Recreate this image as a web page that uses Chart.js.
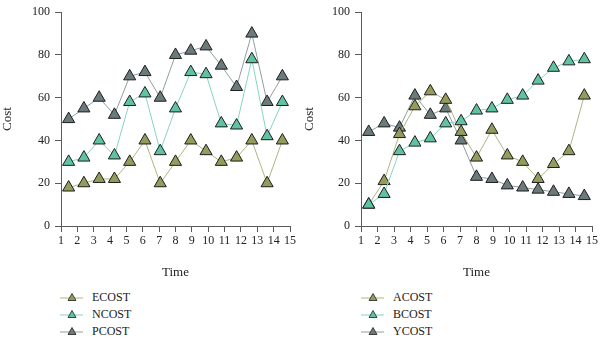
<!DOCTYPE html>
<html><head><meta charset="utf-8">
<script src="https://cdn.jsdelivr.net/npm/chart.js@4.4.1/dist/chart.umd.min.js"></script>
<style>
html,body{margin:0;padding:0;background:#fff;}
#wrap{position:relative;width:600px;height:341px;overflow:hidden;background:#fff;}
canvas{position:absolute;top:0;}
.legend{position:absolute;font-family:"Liberation Serif","Times New Roman",serif;font-size:12px;color:#222;}
.item{position:absolute;left:0;height:17px;line-height:17px;white-space:nowrap;}
.item svg{position:absolute;left:0;top:3px;}
.item span{position:absolute;left:32px;top:0;}
</style></head>
<body><div id="wrap">
<canvas id="c1" width="300" height="282" style="left:0"></canvas>
<canvas id="c2" width="300" height="282" style="left:300px"></canvas>
<div id="lg1" class="legend" style="left:60px;top:289px"></div>
<div id="lg2" class="legend" style="left:361px;top:289px"></div>
</div>
<script>
// ---- data ----
const periods = ['1','2','3','4','5','6','7','8','9','10','11','12','13','14','15'];
const xTickLabels = ['1','2','3','4','5','6','7','8','9','10','11','12','13','14','15'];
const yTickValues = [0, 20, 40, 60, 80, 100];

const ecost = [18, 20, 22, 22, 30, 40, 20, 30, 40, 35, 30, 32, 40, 20, 40];
const ncost = [30, 32, 40, 33, 58, 62, 35, 55, 72, 71, 48, 47, 78, 42, 58];
const pcost = [50, 55, 60, 52, 70, 72, 60, 80, 82, 84, 75, 65, 90, 58, 70];

const acost = [10, 21, 43, 56, 63, 59, 44, 32, 45, 33, 30, 22, 29, 35, 61];
const bcost = [10, 15, 35, 39, 41, 48, 49, 54, 55, 59, 61, 68, 74, 77, 78];
const ycost = [44, 48, 46, 61, 52, 55, 40, 23, 22, 19, 18, 17, 16, 15, 14];

const xTitle = 'Time';
const yTitle = 'Cost';

// ---- styles ----
const olive = {fill: '#939c5c', line: '#b0b482'};
const teal  = {fill: '#5fc2a2', line: '#86d5c0'};
const gray  = {fill: '#6b7a7a', line: '#929d9d'};
const FONT = '"Liberation Serif","Times New Roman",serif';
const AXIS = '#5a5a5a';
const TXT = '#222';

function ds(label, data, st, order) {
  return {
    label, data, xAxisID: 'xc', yAxisID: 'y', order,
    borderColor: st.line, borderWidth: 1, backgroundColor: st.fill,
    pointStyle: 'triangle', pointRadius: 7, pointHoverRadius: 7,
    pointBackgroundColor: st.fill, pointBorderColor: '#1e1e1e', pointBorderWidth: 1,
    fill: false, tension: 0
  };
}

function makeChart(id, datasets, padLeft, padRight) {
  return new Chart(document.getElementById(id), {
    type: 'line',
    data: {labels: periods, datasets},
    options: {
      responsive: false, animation: false, events: [],
      layout: {padding: {left: padLeft, right: padRight, top: 8, bottom: 0}},
      plugins: {legend: {display: false}, tooltip: {enabled: false}},
      scales: {
        x: {
          type: 'category', labels: xTickLabels, offset: false, position: 'bottom',
          grid: {display: true, drawOnChartArea: false, drawTicks: true, tickLength: 6, color: AXIS, offset: false},
          border: {display: true, color: AXIS, width: 1},
          ticks: {font: {family: FONT, size: 12}, color: TXT, padding: 2, maxRotation: 0, autoSkip: false},
          title: {display: true, text: xTitle, font: {family: FONT, size: 13}, color: TXT, padding: {top: 0, bottom: 2}},
          afterFit: s => { s.height = 56; }
        },
        xc: {type: 'category', labels: periods, offset: true, display: false},
        y: {
          min: 0, max: 100,
          afterBuildTicks: s => { s.ticks = yTickValues.map(v => ({value: v})); },
          grid: {display: true, drawOnChartArea: false, drawTicks: true, tickLength: 6, color: AXIS},
          border: {display: true, color: AXIS, width: 1},
          ticks: {font: {family: FONT, size: 12}, color: TXT, padding: 5},
          title: {display: true, text: yTitle, font: {family: FONT, size: 13}, color: TXT, padding: {top: 0, bottom: 0}},
          afterFit: s => { s.width = 61 - padLeft; }
        }
      }
    }
  });
}

makeChart('c1', [ds('ECOST', ecost, olive, 0), ds('NCOST', ncost, teal, 1), ds('PCOST', pcost, gray, 2)], 0, 10);
makeChart('c2', [ds('ACOST', acost, olive, 1), ds('BCOST', bcost, teal, 0), ds('YCOST', ycost, gray, 2)], 2, 6);

function legend(id, names, sts) {
  const el = document.getElementById(id);
  names.forEach((n, i) => {
    const st = sts[i];
    const d = document.createElement('div');
    d.className = 'item';
    d.style.top = (i * 17) + 'px';
    d.innerHTML = '<svg width="26" height="11" viewBox="0 0 26 11">' +
      '<line x1="0" y1="6" x2="23" y2="6" stroke="' + st.line + '" stroke-width="1"/>' +
      '<polygon points="12,1.5 16,8.5 8,8.5" fill="' + st.fill + '" stroke="#1e1e1e" stroke-width="0.8"/></svg>' +
      '<span></span>';
    d.querySelector('span').textContent = n;
    el.appendChild(d);
  });
}
legend('lg1', ['ECOST', 'NCOST', 'PCOST'], [olive, teal, gray]);
legend('lg2', ['ACOST', 'BCOST', 'YCOST'], [olive, teal, gray]);
</script>
</body></html>
